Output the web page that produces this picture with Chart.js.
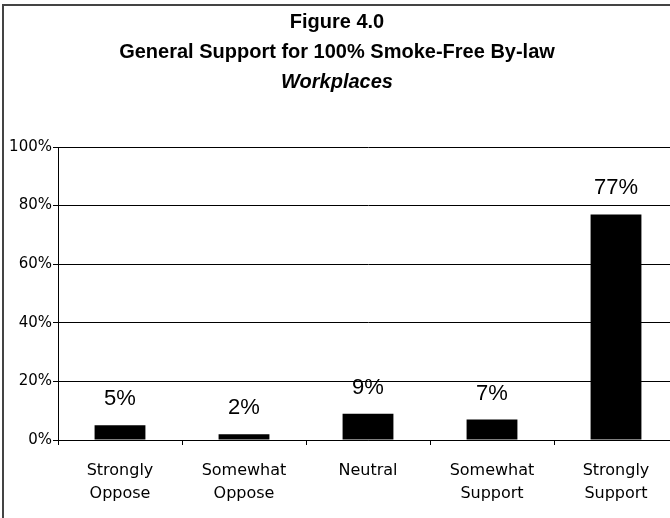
<!DOCTYPE html>
<html>
<head>
<meta charset="utf-8">
<script src="https://cdn.jsdelivr.net/npm/chart.js@4.4.1/dist/chart.umd.min.js"></script>
<style>
  html, body { margin: 0; padding: 0; background: #fff; overflow: hidden; }
  #wrap { position: relative; width: 690px; height: 530px; }
</style>
</head>
<body>
<div id="wrap"><canvas id="fig4" width="690" height="530"></canvas></div>
<script>
const categories = [['Strongly', 'Oppose'], ['Somewhat', 'Oppose'], 'Neutral', ['Somewhat', 'Support'], ['Strongly', 'Support']]
const support = [5, 2, 9, 7, 77]
const yTicks = [0, 20, 40, 60, 80, 100]
const titleLines = ['Figure 4.0', 'General Support for 100% Smoke-Free By-law', 'Workplaces']

// frame + three-line title (last line italic)
const frameTitle = {
    id: 'frameTitle',
    afterDraw(chart){
        const ctx = chart.ctx
        ctx.save()
        ctx.strokeStyle = '#444'
        ctx.lineWidth = 2
        ctx.beginPath()
        ctx.moveTo(3, 700)
        ctx.lineTo(3, 5)
        ctx.lineTo(700, 5)
        ctx.stroke()
        ctx.fillStyle = '#000'
        ctx.textAlign = 'center'
        ctx.textBaseline = 'middle'
        const ys = [22, 52, 82]
        titleLines.forEach((t, i) => {
            ctx.font = (i == 2 ? 'italic ' : '') + 'bold 20px "Liberation Sans", Arial, sans-serif'
            ctx.fillText(t, 337, ys[i])
        })
        ctx.restore()
    }
}

// percent labels over the bars
const barLabels = {
    id: 'barLabels',
    afterDatasetsDraw(chart){
        const ctx = chart.ctx
        const meta = chart.getDatasetMeta(0)
        ctx.save()
        ctx.font = '22px "Liberation Sans", Arial, sans-serif'
        ctx.fillStyle = '#000'
        ctx.textAlign = 'center'
        ctx.textBaseline = 'middle'
        meta.data.forEach((bar, i) => {
            ctx.fillText(support[i] + '%', bar.x, bar.y - 26)
        })
        ctx.restore()
    }
}

new Chart('fig4', {
    type: 'bar',
    data: {
        labels: categories,
        datasets: [{
            data: support,
            backgroundColor: '#000',
            borderWidth: 0,
            barPercentage: 0.41,
            categoryPercentage: 1
        }]
    },
    options: {
        responsive: false,
        animation: false,
        devicePixelRatio: 1,
        layout: { padding: { top: 147, right: 12, bottom: 0, left: 0 } },
        plugins: { legend: { display: false }, title: { display: false }, tooltip: { enabled: false } },
        scales: {
            x: {
                afterFit(scale){ scale.height = 90 },
                grid: { display: true, drawOnChartArea: false, offset: true, color: '#000', tickLength: 5 },
                border: { color: '#000', width: 1 },
                ticks: {
                    color: '#000', padding: 14, maxRotation: 0,
                    font: { family: '"DejaVu Sans", Verdana, sans-serif', size: 16, lineHeight: 1.44 }
                }
            },
            y: {
                min: 0, max: 100,
                afterFit(scale){ scale.width = 58 },
                afterBuildTicks(scale){ scale.ticks = yTicks.map(v => ({ value: v })) },
                grid: { color: '#000', tickLength: 5 },
                border: { color: '#000', width: 1 },
                ticks: {
                    color: '#000', padding: 1,
                    font: { family: '"DejaVu Sans", Verdana, sans-serif', size: 15 },
                    callback: v => v + '%'
                }
            }
        }
    },
    plugins: [frameTitle, barLabels]
})
</script>
</body>
</html>
